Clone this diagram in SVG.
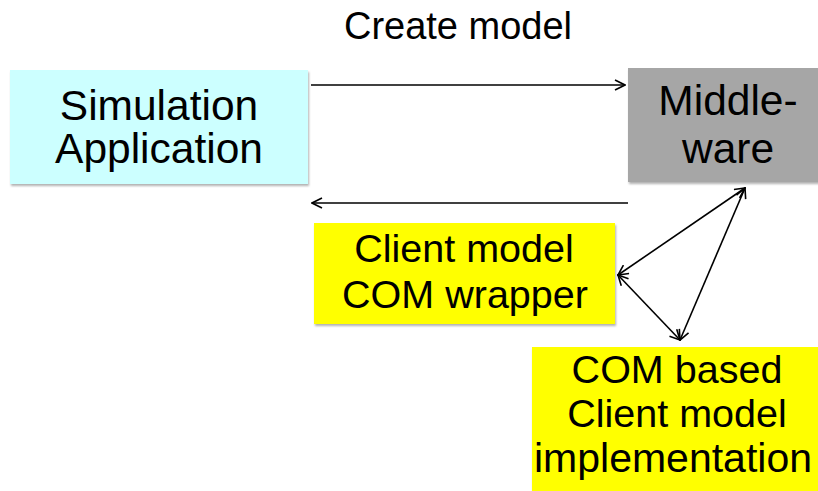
<svg xmlns="http://www.w3.org/2000/svg" width="818" height="491" viewBox="0 0 818 491">
<style>
.t{font-family:"Liberation Sans",Arial,sans-serif;fill:#000;text-anchor:middle}
.big{font-size:42.5px}
.mid{font-size:39.5px}
.lbl{font-size:38px}
.c{stroke:#000;stroke-width:1.6;fill:none}
</style>
<defs>
<marker id="ah" viewBox="0 0 12 12" refX="11" refY="6" markerWidth="12" markerHeight="12" markerUnits="userSpaceOnUse" orient="auto-start-reverse">
<path d="M1,1 L11,6 L1,11" fill="none" stroke="#000" stroke-width="1.6"/>
</marker>
<filter id="sh" x="-5%" y="-5%" width="110%" height="115%">
<feDropShadow dx="1" dy="2" stdDeviation="1.2" flood-color="#000" flood-opacity="0.3"/>
</filter>
</defs>
<text class="t lbl" x="458" y="39">Create model</text>
<g id="sim">
<rect x="10" y="70" width="298" height="114" fill="#ccffff" filter="url(#sh)"/>
<text class="t big" x="159" y="120">Simulation</text>
<text class="t big" x="159" y="163">Application</text>
</g>
<g id="middleware">
<rect x="628" y="68" width="200" height="114" fill="#a6a6a6" filter="url(#sh)"/>
<text class="t big" x="728" y="115">Middle-</text>
<text class="t big" x="728" y="163">ware</text>
</g>
<g id="wrapper">
<rect x="314" y="223" width="301" height="101" fill="#ffff00" filter="url(#sh)"/>
<text class="t mid" x="464" y="262">Client model</text>
<text class="t mid" x="465" y="308">COM wrapper</text>
</g>
<g id="impl">
<rect x="532" y="347" width="296" height="150" fill="#ffff00" filter="url(#sh)"/>
<text class="t mid" x="677" y="383">COM based</text>
<text class="t mid" x="677" y="427">Client model</text>
<text class="t" style="font-size:41px" x="673" y="472">implementation</text>
</g>
<g id="connectors">
<line class="c" x1="311" y1="85" x2="625" y2="85" marker-end="url(#ah)"/>
<line class="c" x1="628" y1="203" x2="312" y2="203" marker-end="url(#ah)"/>
<line class="c" x1="745" y1="188" x2="618" y2="275" marker-start="url(#ah)" marker-end="url(#ah)"/>
<line class="c" x1="618" y1="275" x2="680" y2="340" marker-start="url(#ah)" marker-end="url(#ah)"/>
<line class="c" x1="745" y1="188" x2="680" y2="340" marker-start="url(#ah)" marker-end="url(#ah)"/>
</g>
</svg>
